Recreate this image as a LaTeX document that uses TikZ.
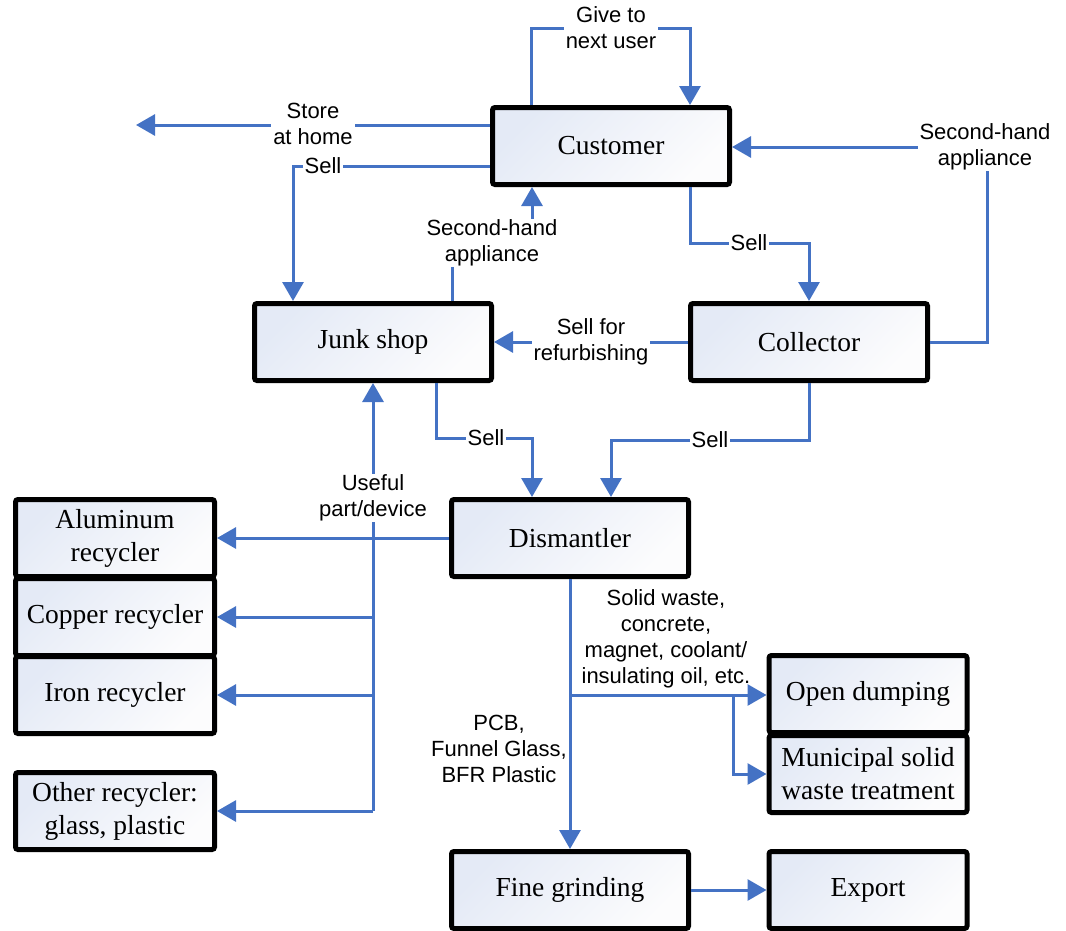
\documentclass[tikz,border=0pt]{standalone}
\usepackage{fontspec}
\setmainfont{Liberation Serif}
\newfontfamily\lblfont{Liberation Sans}
\usetikzlibrary{arrows.meta}
\definecolor{lineblue}{RGB}{68,114,196}
\definecolor{boxA}{RGB}{228,234,246}
\definecolor{boxB}{RGB}{252,252,253}
\begin{document}
\begin{tikzpicture}[x=1pt,y=-1pt,
  box/.style={draw=black, line width=5pt, rounded corners=2.5pt, top color=boxA, bottom color=boxB, shading angle=45,
    minimum width=237pt, minimum height=77pt, inner sep=3pt, align=center, font=\fontsize{27.5}{33}\selectfont},
  lbox/.style={box, minimum width=199pt},
  rbox/.style={box, minimum width=198pt},
  conn/.style={draw=lineblue, line width=3pt},
  arr/.style={conn, -{Triangle[width=21pt,length=19pt]}},
  lbl/.style={fill=white, inner xsep=2pt, inner ysep=1pt, align=center, font=\lblfont\fontsize{22}{26}\selectfont},
  plain/.style={inner sep=1pt, align=center, font=\lblfont\fontsize{22}{26}\selectfont}
]
\useasboundingbox (0,0) rectangle (1066,930);

% boxes
\node[box] (customer) at (611,146) {Customer};
\node[box] (junk) at (373,342) {Junk shop};
\node[box] (collector) at (809,342) {Collector};
\node[box] (dis) at (570,538) {Dismantler};
\node[lbox] (alu) at (115,538) {Aluminum\\recycler};
\node[lbox] (cu) at (115,617) {Copper recycler};
\node[lbox] (fe) at (115,695) {Iron recycler};
\node[lbox] (other) at (115,811) {Other recycler:\\glass, plastic};
\node[rbox] (open) at (868,694) {Open dumping};
\node[rbox] (mun) at (868,774) {Municipal solid\\waste treatment};
\node[box] (fine) at (570,890) {Fine grinding};
\node[rbox] (export) at (868,890) {Export};

% coordinates for bends
\coordinate (gA) at (531,28);
\coordinate (gB) at (690,28);
\coordinate (home) at (136,125);
\coordinate (s1) at (293,166);
\coordinate (j1) at (452,243);
\coordinate (j2) at (532,243);
\coordinate (c1) at (690,243);
\coordinate (c2) at (809,243);
\coordinate (r1) at (987,342);
\coordinate (r2) at (987,147);
\coordinate (k1) at (436,438);
\coordinate (k2) at (532,438);
\coordinate (m1) at (809,440);
\coordinate (m2) at (611,440);
\coordinate (u0) at (373,538);
\coordinate (u1) at (373,811);
\coordinate (d1) at (570,695);
\coordinate (d2) at (733,695);
\coordinate (d3) at (733,774);

% connectors
\draw[arr] (customer.north -| gA) -- (gA) -- (gB) -- (customer.north -| gB);
\draw[arr] (customer.west |- home) -- (home);
\draw[arr] (customer.west |- s1) -- (s1) -- (junk.north -| s1);
\draw[arr] (junk.north -| j1) -- (j1) -- (j2) -- (customer.south -| j2);
\draw[arr] (customer.south -| c1) -- (c1) -- (c2) -- (collector.north -| c2);
\draw[arr] (collector.east) -- (r1) -- (r2) -- (customer.east |- r2);
\draw[arr] (collector.west) -- (junk.east);
\draw[arr] (junk.south -| k1) -- (k1) -- (k2) -- (dis.north -| k2);
\draw[arr] (collector.south -| m1) -- (m1) -- (m2) -- (dis.north -| m2);
\draw[arr] (dis.west) -- (alu.east);
\draw[arr] (u0) -- (junk.south);
\draw[conn] (u0) -- (u1);
\draw[arr] (u0 |- cu.east) -- (cu.east);
\draw[arr] (u0 |- fe.east) -- (fe.east);
\draw[arr] (u1) -- (other.east |- u1);
\draw[arr] (dis.south) -- (fine.north);
\draw[arr] (d1) -- (open.west |- d1);
\draw[arr] (d2) -- (d3) -- (mun.west |- d3);
\draw[arr] (fine.east) -- (export.west);

% labels
\node[lbl] (lgive) at (611,28) {Give to\\next user};
\node[lbl] (lstore) at (313,124) {Store\\at home};
\node[lbl] (lsell1) at (323,166) {Sell};
\node[lbl] (lsh1) at (492,243) {Second-hand\\appliance};
\node[lbl] (lsell2) at (749,243) {Sell};
\node[lbl] (lsh2) at (985,147) {Second-hand\\appliance};
\node[lbl] (lref) at (591,342) {Sell for\\refurbishing};
\node[lbl] (lsell3) at (486,438) {Sell};
\node[lbl] (lsell4) at (710,440) {Sell};
\node[lbl] (luse) at (373,498) {Useful\\part/device};
\node[plain] (lsolid) at (666,639) {Solid waste,\\concrete,\\magnet, coolant/\\insulating oil, etc.};
\node[plain] (lpcb) at (499,749) {PCB,\\Funnel Glass,\\BFR Plastic};
\end{tikzpicture}
\end{document}
